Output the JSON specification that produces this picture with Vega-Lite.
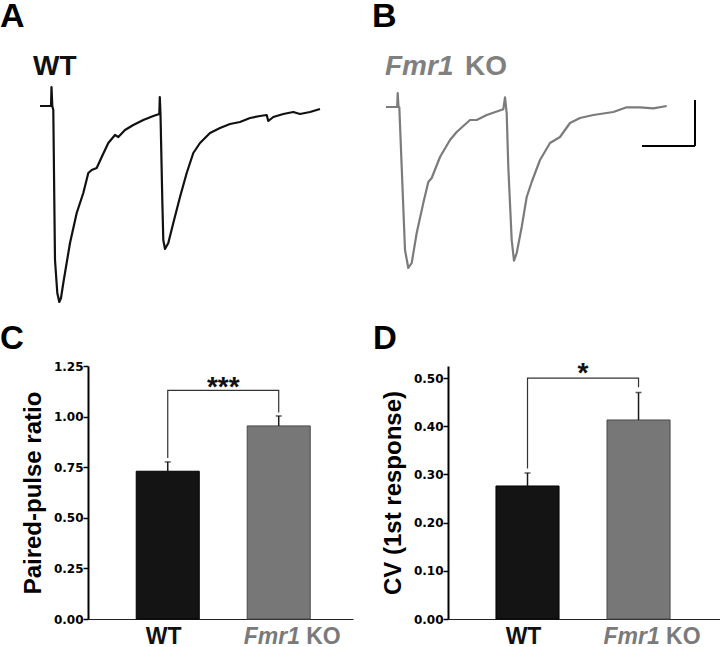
{
  "$schema": "https://vega.github.io/schema/vega-lite/v6.json",
  "padding": 0,
  "background": "white",
  "spacing": 15,
  "config": {
    "view": {"stroke": null},
    "font": "Liberation Sans",
    "title": {"fontSize": 34, "fontWeight": "bold", "anchor": "start", "frame": "group", "color": "black", "offset": 4}
  },
  "datasets": {
    "traceWT": [{"t":-12,"v":0},{"t":-2,"v":0},{"t":-1,"v":0},{"t":-0.5,"v":19},{"t":0.3,"v":0},{"t":1.3,"v":-4},{"t":2.3,"v":-94},{"t":3,"v":-154},{"t":5.3,"v":-187},{"t":7.3,"v":-196},{"t":9,"v":-192},{"t":11.3,"v":-177},{"t":18,"v":-137},{"t":24.7,"v":-107},{"t":31.3,"v":-87},{"t":36.3,"v":-67},{"t":39.7,"v":-64},{"t":44.7,"v":-62},{"t":49.7,"v":-51},{"t":56.3,"v":-37},{"t":63,"v":-29},{"t":66.3,"v":-31},{"t":73,"v":-24},{"t":81.3,"v":-19},{"t":91.3,"v":-14},{"t":101.3,"v":-10},{"t":107.3,"v":-8},{"t":107.8,"v":9},{"t":108.5,"v":-8},{"t":110.3,"v":-94},{"t":111.3,"v":-134},{"t":113,"v":-143},{"t":116.3,"v":-137},{"t":121.3,"v":-117},{"t":128,"v":-91},{"t":134.7,"v":-67},{"t":141.3,"v":-47},{"t":148,"v":-37},{"t":158,"v":-27},{"t":168,"v":-22},{"t":178,"v":-18},{"t":188,"v":-16},{"t":198,"v":-12},{"t":208,"v":-10},{"t":214.7,"v":-9},{"t":216.3,"v":-15},{"t":221.3,"v":-11},{"t":231.3,"v":-8},{"t":241.3,"v":-6},{"t":248,"v":-8},{"t":258,"v":-6},{"t":268,"v":-3}],
    "traceKO": [{"t":-12,"v":-1},{"t":-2,"v":-1},{"t":-0.8,"v":-1},{"t":-0.3,"v":13},{"t":0.5,"v":-1},{"t":1.3,"v":-1},{"t":3.7,"v":-61},{"t":7,"v":-144},{"t":10.3,"v":-162},{"t":13.7,"v":-157},{"t":18.7,"v":-127},{"t":25.3,"v":-97},{"t":30.3,"v":-76},{"t":33.7,"v":-72},{"t":42,"v":-51},{"t":52,"v":-34},{"t":58.7,"v":-26},{"t":72,"v":-14},{"t":78.7,"v":-14},{"t":88.7,"v":-9},{"t":105.3,"v":-3.3},{"t":107,"v":8.7},{"t":108.7,"v":-7.3},{"t":110.3,"v":-61},{"t":113.7,"v":-134},{"t":116,"v":-154.7},{"t":118.7,"v":-147},{"t":123.7,"v":-121},{"t":128.7,"v":-91},{"t":133.7,"v":-76},{"t":142,"v":-54},{"t":152,"v":-37},{"t":162,"v":-31},{"t":172,"v":-17},{"t":182,"v":-12},{"t":195.3,"v":-9},{"t":215.3,"v":-6},{"t":228.7,"v":-1.3},{"t":242,"v":-1.3},{"t":255.3,"v":-2.3},{"t":268.7,"v":0}],
    "scalebar": [{"t":297,"t2":297,"v":6,"v2":-40},{"t":244,"t2":297,"v":-40,"v2":-40}],
    "ppr": [{"group":"WT","mean":0.73,"upper":0.776},{"group":"Fmr1 KO","mean":0.954,"upper":1.003}],
    "pprBracket": [{"seq":1,"group":"WT","y":0.795},{"seq":2,"group":"WT","y":1.13},{"seq":3,"group":"Fmr1 KO","y":1.13},{"seq":4,"group":"Fmr1 KO","y":1.02}],
    "cv": [{"group":"WT","mean":0.276,"upper":0.303},{"group":"Fmr1 KO","mean":0.413,"upper":0.47}],
    "cvBracket": [{"seq":1,"group":"WT","y":0.3125},{"seq":2,"group":"WT","y":0.5},{"seq":3,"group":"Fmr1 KO","y":0.5},{"seq":4,"group":"Fmr1 KO","y":0.481}]
  },
  "vconcat": [
    {
      "spacing": 32,
      "hconcat": [
        {
          "width": 252,
          "height": 270,
          "title": {"text": "A", "dx": -88},
          "layer": [
            {
              "data": {"name": "traceWT"},
              "mark": {"type": "line", "color": "#111111", "strokeWidth": 2.2, "strokeJoin": "round", "clip": false},
              "encoding": {
                "x": {"field": "t", "type": "quantitative", "scale": {"domain": [36, 288], "nice": false, "zero": false}, "axis": null},
                "y": {"field": "v", "type": "quantitative", "scale": {"domain": [-202, 68], "nice": false, "zero": false}, "axis": null}
              }
            },
            {
              "data": {"values": [{}]},
              "mark": {"type": "text", "align": "left", "baseline": "alphabetic", "fontSize": 28, "fontWeight": "bold", "color": "#111111", "clip": false},
              "encoding": {
                "x": {"datum": -19, "type": "quantitative"},
                "y": {"datum": 31, "type": "quantitative"},
                "text": {"value": "WT"}
              }
            }
          ]
        },
        {
          "width": 340,
          "height": 270,
          "title": {"text": "B"},
          "layer": [
            {
              "data": {"name": "traceKO"},
              "mark": {"type": "line", "color": "#7b7b7b", "strokeWidth": 2.2, "strokeJoin": "round"},
              "encoding": {
                "x": {"field": "t", "type": "quantitative", "scale": {"domain": [-26, 314], "nice": false, "zero": false}, "axis": null},
                "y": {"field": "v", "type": "quantitative", "scale": {"domain": [-202, 68], "nice": false, "zero": false}, "axis": null}
              }
            },
            {
              "data": {"name": "scalebar"},
              "mark": {"type": "rule", "color": "#000000", "strokeWidth": 2},
              "encoding": {
                "x": {"field": "t", "type": "quantitative"},
                "x2": {"field": "t2"},
                "y": {"field": "v", "type": "quantitative"},
                "y2": {"field": "v2"}
              }
            },
            {
              "data": {"values": [{}]},
              "mark": {"type": "text", "align": "left", "baseline": "alphabetic", "fontSize": 28, "fontWeight": "bold", "fontStyle": "italic", "color": "#808080"},
              "encoding": {
                "x": {"datum": -13, "type": "quantitative"},
                "y": {"datum": 31, "type": "quantitative"},
                "text": {"value": "Fmr1"}
              }
            },
            {
              "data": {"values": [{}]},
              "mark": {"type": "text", "align": "left", "baseline": "alphabetic", "fontSize": 28, "fontWeight": "bold", "color": "#808080"},
              "encoding": {
                "x": {"datum": 67, "type": "quantitative"},
                "y": {"datum": 31, "type": "quantitative"},
                "text": {"value": "KO"}
              }
            }
          ]
        }
      ]
    },
    {
      "spacing": 20,
      "hconcat": [
        {
          "width": 265,
          "height": 253,
          "title": {"text": "C", "dx": -88, "fontSize": 33},
          "encoding": {
            "x": {"field": "group", "type": "nominal",
              "scale": {"domain": ["WT", "Fmr1 KO"], "paddingInner": 0.432, "paddingOuter": 0.41, "align": 0.53},
              "axis": {"labels": false, "ticks": false, "title": null, "domainColor": "#222222", "domainWidth": 1.2}}
          },
          "layer": [
            {
              "data": {"name": "ppr"},
              "mark": {"type": "bar", "strokeWidth": 1},
              "encoding": {
                "y": {"field": "mean", "type": "quantitative",
                  "scale": {"domain": [0, 1.25], "nice": false},
                  "axis": {
                    "title": "Paired-pulse ratio", "titleFontSize": 24, "titleFontWeight": "bold", "titleColor": "black", "titlePadding": 8,
                    "values": [0, 0.125, 0.25, 0.375, 0.5, 0.625, 0.75, 0.875, 1, 1.125, 1.25],
                    "format": ".2f",
                    "labelExpr": "round(datum.value*8)%2==0 ? datum.label : ''",
                    "labelFont": "DejaVu Sans", "labelFontSize": 12, "labelFontWeight": "bold", "labelColor": "black", "labelPadding": 0,
                    "tickColor": "black", "tickWidth": 1.5,
                    "tickSize": {"condition": {"test": "round(datum.value*8)%2==1", "value": 2.5}, "value": 5},
                    "domainColor": "black", "domainWidth": 2, "grid": false
                  }},
                "fill": {"field": "group", "type": "nominal", "scale": {"domain": ["WT", "Fmr1 KO"], "range": ["#141414", "#777777"]}, "legend": null},
                "stroke": {"field": "group", "type": "nominal", "scale": {"domain": ["WT", "Fmr1 KO"], "range": ["#000000", "#4a4a4a"]}, "legend": null}
              }
            },
            {
              "data": {"name": "ppr"},
              "mark": {"type": "rule", "color": "#1a1a1a", "strokeWidth": 1.5},
              "encoding": {
                "y": {"field": "mean", "type": "quantitative"},
                "y2": {"field": "upper"}
              }
            },
            {
              "data": {"name": "ppr"},
              "mark": {"type": "tick", "color": "#1a1a1a", "thickness": 1.5, "size": 6},
              "encoding": {
                "y": {"field": "upper", "type": "quantitative"}
              }
            },
            {
              "data": {"name": "pprBracket"},
              "mark": {"type": "line", "color": "#333333", "strokeWidth": 1.2},
              "encoding": {
                "y": {"field": "y", "type": "quantitative"},
                "order": {"field": "seq", "type": "quantitative"}
              }
            },
            {
              "data": {"values": [{}]},
              "mark": {"type": "text", "align": "center", "baseline": "alphabetic", "fontSize": 28, "fontWeight": "bold", "color": "#111111", "dx": 55.5, "dy": 6},
              "encoding": {
                "x": {"datum": "WT"},
                "y": {"datum": 1.13, "type": "quantitative"},
                "text": {"value": "***"}
              }
            },
            {
              "data": {"values": [{}]},
              "mark": {"type": "text", "align": "center", "baseline": "alphabetic", "fontSize": 23, "fontWeight": "bold", "color": "#111111", "dx": -4, "dy": 25},
              "encoding": {
                "x": {"datum": "WT"},
                "y": {"datum": 0, "type": "quantitative"},
                "text": {"value": "WT"}
              }
            },
            {
              "data": {"values": [{}]},
              "mark": {"type": "text", "align": "left", "baseline": "alphabetic", "fontSize": 23, "fontWeight": "bold", "fontStyle": "italic", "color": "#7a7a7a", "dx": -35, "dy": 25},
              "encoding": {
                "x": {"datum": "Fmr1 KO"},
                "y": {"datum": 0, "type": "quantitative"},
                "text": {"value": "Fmr1"}
              }
            },
            {
              "data": {"values": [{}]},
              "mark": {"type": "text", "align": "left", "baseline": "alphabetic", "fontSize": 23, "fontWeight": "bold", "color": "#7a7a7a", "dx": 27.5, "dy": 25},
              "encoding": {
                "x": {"datum": "Fmr1 KO"},
                "y": {"datum": 0, "type": "quantitative"},
                "text": {"value": "KO"}
              }
            }
          ]
        },
        {
          "width": 272,
          "height": 253,
          "title": {"text": "D", "dx": -75, "fontSize": 33},
          "encoding": {
            "x": {"field": "group", "type": "nominal",
              "scale": {"domain": ["WT", "Fmr1 KO"], "paddingInner": 0.432, "paddingOuter": 0.441, "align": 0.49},
              "axis": {"labels": false, "ticks": false, "title": null, "domainColor": "#222222", "domainWidth": 1.2}}
          },
          "layer": [
            {
              "data": {"name": "cv"},
              "mark": {"type": "bar", "strokeWidth": 1},
              "encoding": {
                "y": {"field": "mean", "type": "quantitative",
                  "scale": {"domain": [0, 0.525], "nice": false},
                  "axis": {
                    "title": "CV (1st response)", "titleFontSize": 24, "titleFontWeight": "bold", "titleColor": "black", "titlePadding": 8,
                    "values": [0, 0.05, 0.1, 0.15, 0.2, 0.25, 0.3, 0.35, 0.4, 0.45, 0.5],
                    "format": ".2f",
                    "labelExpr": "round(datum.value*20)%2==0 ? datum.label : ''",
                    "labelFont": "DejaVu Sans", "labelFontSize": 12, "labelFontWeight": "bold", "labelColor": "black", "labelPadding": 0,
                    "tickColor": "black", "tickWidth": 1.5,
                    "tickSize": {"condition": {"test": "round(datum.value*20)%2==1", "value": 2.5}, "value": 5},
                    "domainColor": "black", "domainWidth": 2, "grid": false
                  }},
                "fill": {"field": "group", "type": "nominal", "scale": {"domain": ["WT", "Fmr1 KO"], "range": ["#141414", "#777777"]}, "legend": null},
                "stroke": {"field": "group", "type": "nominal", "scale": {"domain": ["WT", "Fmr1 KO"], "range": ["#000000", "#4a4a4a"]}, "legend": null}
              }
            },
            {
              "data": {"name": "cv"},
              "mark": {"type": "rule", "color": "#1a1a1a", "strokeWidth": 1.5},
              "encoding": {
                "y": {"field": "mean", "type": "quantitative"},
                "y2": {"field": "upper"}
              }
            },
            {
              "data": {"name": "cv"},
              "mark": {"type": "tick", "color": "#1a1a1a", "thickness": 1.5, "size": 6},
              "encoding": {
                "y": {"field": "upper", "type": "quantitative"}
              }
            },
            {
              "data": {"name": "cvBracket"},
              "mark": {"type": "line", "color": "#333333", "strokeWidth": 1.2},
              "encoding": {
                "y": {"field": "y", "type": "quantitative"},
                "order": {"field": "seq", "type": "quantitative"}
              }
            },
            {
              "data": {"values": [{}]},
              "mark": {"type": "text", "align": "center", "baseline": "alphabetic", "fontSize": 28, "fontWeight": "bold", "color": "#111111", "dx": 55.5, "dy": 4},
              "encoding": {
                "x": {"datum": "WT"},
                "y": {"datum": 0.5, "type": "quantitative"},
                "text": {"value": "*"}
              }
            },
            {
              "data": {"values": [{}]},
              "mark": {"type": "text", "align": "center", "baseline": "alphabetic", "fontSize": 23, "fontWeight": "bold", "color": "#111111", "dx": -4, "dy": 25},
              "encoding": {
                "x": {"datum": "WT"},
                "y": {"datum": 0, "type": "quantitative"},
                "text": {"value": "WT"}
              }
            },
            {
              "data": {"values": [{}]},
              "mark": {"type": "text", "align": "left", "baseline": "alphabetic", "fontSize": 23, "fontWeight": "bold", "fontStyle": "italic", "color": "#7a7a7a", "dx": -35, "dy": 25},
              "encoding": {
                "x": {"datum": "Fmr1 KO"},
                "y": {"datum": 0, "type": "quantitative"},
                "text": {"value": "Fmr1"}
              }
            },
            {
              "data": {"values": [{}]},
              "mark": {"type": "text", "align": "left", "baseline": "alphabetic", "fontSize": 23, "fontWeight": "bold", "color": "#7a7a7a", "dx": 27.5, "dy": 25},
              "encoding": {
                "x": {"datum": "Fmr1 KO"},
                "y": {"datum": 0, "type": "quantitative"},
                "text": {"value": "KO"}
              }
            }
          ]
        }
      ]
    }
  ]
}
